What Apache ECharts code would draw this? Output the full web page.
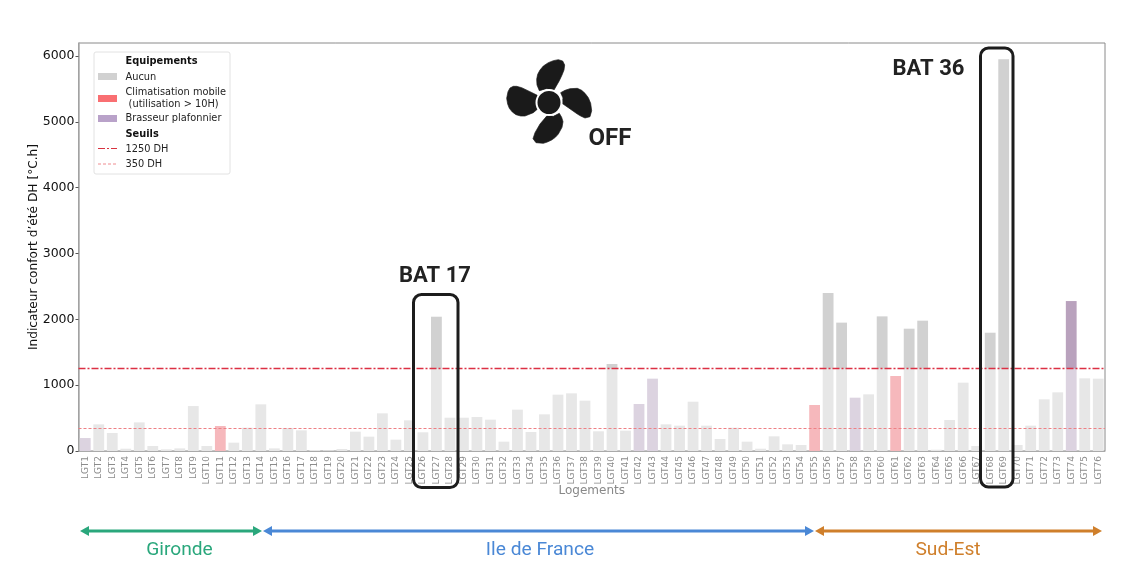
<!DOCTYPE html>
<html><head><meta charset="utf-8">
<style>html,body{margin:0;padding:0;background:#fff}#c{width:1129px;height:573px}</style>
<script src="https://cdn.jsdelivr.net/npm/echarts@6/dist/echarts.min.js"></script>
</head><body><div id="c"></div>
<script>
const categories = ["LGT1","LGT2","LGT3","LGT4","LGT5","LGT6","LGT7","LGT8","LGT9","LGT10","LGT11","LGT12","LGT13","LGT14","LGT15","LGT16","LGT17","LGT18","LGT19","LGT20","LGT21","LGT22","LGT23","LGT24","LGT25","LGT26","LGT27","LGT28","LGT29","LGT30","LGT31","LGT32","LGT33","LGT34","LGT35","LGT36","LGT37","LGT38","LGT39","LGT40","LGT41","LGT42","LGT43","LGT44","LGT45","LGT46","LGT47","LGT48","LGT49","LGT50","LGT51","LGT52","LGT53","LGT54","LGT55","LGT56","LGT57","LGT58","LGT59","LGT60","LGT61","LGT62","LGT63","LGT64","LGT65","LGT66","LGT67","LGT68","LGT69","LGT70","LGT71","LGT72","LGT73","LGT74","LGT75","LGT76"];
const values = [197,405,273,35,435,76,25,40,683,76,380,127,354,709,40,350,314,15,10,30,294,218,572,172,466,284,2040,506,506,516,476,142,628,289,557,856,876,765,299,1322,309,714,1099,405,385,749,385,182,354,142,35,223,101,91,699,2400,1950,810,861,2045,1139,1858,1980,20,471,1038,76,1797,5950,91,385,785,891,2278,1104,1099];
const climatisation = ["LGT11","LGT55","LGT61"];
const brasseur = ["LGT1","LGT42","LGT43","LGT58","LGT74"];
const thresholds = [1250, 350];
const yTicks = [0,1000,2000,3000,4000,5000,6000];

const lowColor = c => climatisation.includes(c) ? '#f6b8bc' : brasseur.includes(c) ? '#dcd3e0' : '#e7e7e7';
const highColor = c => brasseur.includes(c) ? '#b9a2bd' : climatisation.includes(c) ? '#ef8f94' : '#d1d1d1';
const low = values.map((v,i)=>({value:Math.min(v,thresholds[0]),itemStyle:{color:lowColor(categories[i])}}));
const high = values.map((v,i)=>({value:Math.max(v-thresholds[0],0),itemStyle:{color:highColor(categories[i])}}));

const legendFont='9.8px "DejaVu Sans"', legendBold='bold 9.8px "DejaVu Sans"';
const T=(x,y,text,o)=>({type:'text',z:50,x,y,style:Object.assign({text,fill:'#222',font:legendFont,textVerticalAlign:'middle'},o||{})});
const R=(x,y,w,h,fill)=>({type:'rect',z:50,shape:{x,y,width:w,height:h},style:{fill}});
const L=(x1,x2,y,stroke,dash,w)=>({type:'line',z:50,shape:{x1,y1:y,x2,y2:y},style:{stroke,lineWidth:w||1,lineDash:dash||null}});
const arrow=(x1,x2,y,c)=>[
  L(x1+6,x2-6,y,c,null,3.2),
  {type:'polygon',z:50,shape:{points:[[x1,y],[x1+9,y-5],[x1+9,y+5]]},style:{fill:c}},
  {type:'polygon',z:50,shape:{points:[[x2,y],[x2-9,y-5],[x2-9,y+5]]},style:{fill:c}}];
const box=(x,y,w,h)=>({type:'rect',z:50,shape:{x,y,width:w,height:h,r:8},style:{fill:'none',stroke:'#1c1c1c',lineWidth:3}});
const bold=f=>({font:'bold '+f+'px Roboto',fill:'#222',textAlign:'center'});
const region=(x,text,c)=>T(x,550,text,{font:'19.2px Roboto',fill:c,textAlign:'center'});

const blades=[
 [[148,152],[141,135],[140,118],[143,103],[150,90],[160,78],[175,68],[190,62],[205,59],[218,63],[224,75],[222,90],[216,105],[208,122],[192,150],[170,146]],
 [[212,158],[225,151],[240,146],[262,145],[275,151],[285,160],[295,173],[302,190],[305,212],[300,230],[285,234],[272,228],[262,222],[235,203],[216,190],[219,174]],
 [[208,220],[215,232],[219,245],[216,262],[205,282],[196,292],[185,300],[172,306],[160,310],[138,308],[129,296],[135,278],[150,252],[172,226],[190,229]],
 [[142,166],[120,155],[95,143],[80,139],[70,139],[60,144],[54,155],[50,175],[53,192],[58,205],[67,216],[78,224],[92,228],[105,228],[130,218],[146,204],[139,185]]
];
const bladeEls=blades.map(p=>({type:'polygon',z:50,x:490,y:40,scaleX:1/3,scaleY:1/3,silent:true,shape:{points:p},style:{fill:'#1a1a1a',stroke:'#1a1a1a',lineWidth:2,lineJoin:'round'}}));

const chart=echarts.init(document.getElementById('c'),null,{renderer:'canvas'});
chart.setOption({
  animation:false,
  grid:{left:78.5,right:24,top:43,bottom:122,show:true,borderColor:'#8a8a8a',borderWidth:1,backgroundColor:'#fff'},
  xAxis:{type:'category',data:categories,
    name:'Logements',nameLocation:'middle',nameGap:40,nameMoveOverlap:false,nameTextStyle:{color:'#888',fontSize:12,fontFamily:'DejaVu Sans',verticalAlign:'middle'},
    axisLine:{lineStyle:{color:'#aaa'}},axisTick:{alignWithLabel:true,length:3,lineStyle:{color:'#aaa'}},
    axisLabel:{interval:0,rotate:90,fontSize:9,color:'#8c8c8c',fontFamily:'DejaVu Sans',margin:5}},
  yAxis:{type:'value',min:0,max:6198,
    name:'Indicateur confort d’été DH [°C.h]',nameLocation:'middle',nameGap:45,nameMoveOverlap:false,nameTextStyle:{color:'#111',fontSize:12.2,fontFamily:'DejaVu Sans',verticalAlign:'middle'},
    splitLine:{show:false},
    axisLine:{show:true,lineStyle:{color:'#aaa',width:1.5}},
    axisTick:{show:true,length:3,customValues:yTicks,lineStyle:{color:'#555'}},
    axisLabel:{customValues:yTicks,formatter:v=>String(v),fontSize:12.5,color:'#111',fontFamily:'DejaVu Sans',margin:4}},
  series:[
    {name:'low',type:'bar',stack:'dh',data:low,barWidth:10.8,
     markLine:{silent:true,symbol:'none',label:{show:false},animation:false,z:10,data:[
       {yAxis:thresholds[0],lineStyle:{color:'#dc3044',width:1.3,type:[7,2,2,2]}},
       {yAxis:thresholds[1],lineStyle:{color:'#ee8085',width:1.1,type:[3,2]}}]}},
    {name:'high',type:'bar',stack:'dh',data:high,barWidth:10.8}
  ],
  graphic:[
    {type:'rect',z:49,shape:{x:94,y:52,width:136,height:122,r:2},style:{fill:'#fff',stroke:'#e2e2e2',lineWidth:1}},
    T(125.5,61,'Equipements',{font:legendBold,fill:'#111'}),
    R(98,73,19,7,'#d1d1d1'),T(125.5,77,'Aucun'),
    R(98,95,19,7,'#f96f72'),T(125.5,92,'Climatisation mobile'),T(125.5,104,' (utilisation > 10H)'),
    R(98,115,19,7,'#b9a2c9'),T(125.5,118.5,'Brasseur plafonnier'),
    T(125.5,134,'Seuils',{font:legendBold,fill:'#111'}),
    L(98,117,148.5,'#d8323f',[7,2,2,2]),T(125.5,149,'1250 DH'),
    L(98,117,164,'#ef8c90',[3,2]),T(125.5,164.5,'350 DH'),
    box(413.5,294.5,44.5,193),box(980.5,48,32.5,439),
    T(435,276.5,'BAT 17',bold(22)),
    T(928.5,69.5,'BAT 36',bold(22)),
    T(610,138.5,'OFF',bold(24)),
    ...bladeEls,
    {type:'circle',z:51,shape:{cx:549,cy:102.5,r:12.5},style:{fill:'#1a1a1a',stroke:'#fff',lineWidth:2}},
    ...arrow(80,262,531,'#2aa77c'),...arrow(263,814,531,'#4a88d6'),...arrow(815,1102,531,'#cf7f2b'),
    region(179.5,'Gironde','#2aa77c'),region(540,'Ile de France','#4a88d6'),region(948,'Sud-Est','#cf7f2b')
  ]
});
</script></body></html>
